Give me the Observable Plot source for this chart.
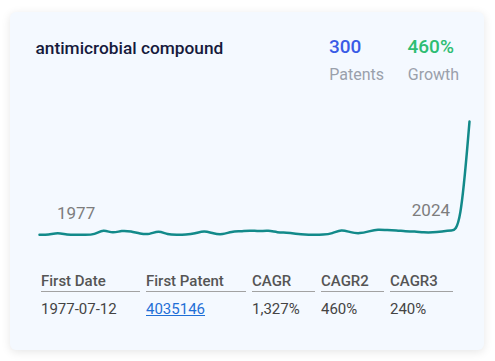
<!DOCTYPE html>
<html>
<head>
<meta charset="utf-8">
<script src="https://cdn.jsdelivr.net/npm/d3@7"></script>
<script src="https://cdn.jsdelivr.net/npm/@observablehq/plot@0.6"></script>
<style>
  html, body { margin: 0; padding: 0; background: #ffffff; }
  body { width: 495px; height: 361px; position: relative; overflow: hidden; font-family: Roboto, "Noto Sans", sans-serif; }
  .card { position: absolute; left: 10px; top: 12px; width: 474px; height: 338px; background: #f4f9ff; border-radius: 6px; box-shadow: 0 2px 10px rgba(0,0,0,0.10); }
  .abs { position: absolute; white-space: nowrap; line-height: 1; }
  .title { font-size: 17.3px; font-weight: 500; color: #161a3c; }
  .big { font-size: 19px; font-weight: 500; }
  .lbl { font-size: 16px; font-weight: 400; color: #9aa0ab; }
  .th { font-size: 15px; font-weight: 500; color: #555; }
  .td { font-size: 15px; font-weight: 400; color: #444; }
  .rule { position: absolute; height: 1px; background: #a2a2a2; }
  a { color: #1f6fd6; text-decoration: underline; }
  #chart { position: absolute; left: 10px; top: 95px; }
</style>
</head>
<body>
<div class="card"></div>
<div id="header"></div>
<div id="chart"></div>
<div id="table"></div>
<script>
// ---- data ----
const title = "antimicrobial compound";
const statValues = ["300", "460%"];
const statLabels = ["Patents", "Growth"];
const statColors = ["#3a5be6", "#2ebd72"];
const years = [1977,1978,1979,1980,1981,1982,1983,1984,1985,1986,1987,1988,1989,1990,1991,1992,
  1993,1994,1995,1996,1997,1998,1999,2000,2001,2002,2003,2004,2005,2006,2007,2008,
  2009,2010,2011,2012,2013,2014,2015,2016,2017,2018,2019,2020,2021,2022,2023,2024];
const counts = [1,1,3,1,1,1,1,6,2,5,4,2,1,5,1,1,
  1,2,5,2,1,4,4,5,4,5,3,3,2,1,1,1,
  2,6,3,2,4,6,5,5,4,4,3,3,4,5,5,101];
const tableHeaders = ["First Date", "First Patent", "CAGR", "CAGR2", "CAGR3"];
const tableValues = ["1977-07-12", "4035146", "1,327%", "460%", "240%"];

// ---- header ----
const header = document.getElementById("header");
function addText(parent, cls, text, left, top, color) {
  const d = document.createElement("div");
  d.className = "abs " + cls;
  d.textContent = text;
  d.style.left = left + "px";
  d.style.top = top + "px";
  if (color) d.style.color = color;
  parent.appendChild(d);
  return d;
}
addText(header, "title", title, 35.5, 40.1);
const statLeft = [329, 407.5];
statValues.forEach((v, i) => addText(header, "big", v, statLeft[i], 37.3, statColors[i]));
statLabels.forEach((v, i) => addText(header, "lbl", v, statLeft[i] + 0.3, 66.5));

// ---- chart ----
const data = years.map((y, i) => ({year: y, count: counts[i]}));
const minC = d3.min(counts), maxC = d3.max(counts);
const first = data[0], last = data[data.length - 1];
const plot = Plot.plot({
  width: 474,
  height: 155,
  marginLeft: 29,
  marginRight: 15,
  marginTop: 26,
  marginBottom: 15.7,
  style: {background: "transparent", overflow: "visible"},
  x: {domain: [years[0], years[years.length - 1]], axis: null},
  y: {domain: [minC, maxC], axis: null},
  marks: [
    Plot.line(data, {x: "year", y: "count", curve: "basis", stroke: "#128a8a", strokeWidth: 2.5}),
    Plot.text([first], {x: "year", y: () => minC, text: d => String(d.year), textAnchor: "start", lineAnchor: "bottom", dx: 17.5, dy: -16, fontSize: 17, fill: "#7d7d7d", fontFamily: "Roboto"}),
    Plot.text([last], {x: "year", y: () => minC, text: d => String(d.year), textAnchor: "end", lineAnchor: "bottom", dx: -19.5, dy: -19.3, fontSize: 17, fill: "#7d7d7d", fontFamily: "Roboto"})
  ]
});
document.getElementById("chart").appendChild(plot);

// ---- table ----
const table = document.getElementById("table");
const colLeft = [41, 146, 252, 321, 390];
const colWidth = [98.5, 100, 63, 63, 63];
tableHeaders.forEach((h, i) => {
  addText(table, "th", h, colLeft[i], 274.1);
  const r = document.createElement("div");
  r.className = "rule";
  r.style.left = colLeft[i] + "px";
  r.style.top = "291px";
  r.style.width = colWidth[i] + "px";
  table.appendChild(r);
});
tableValues.forEach((v, i) => {
  const d = addText(table, "td", "", colLeft[i], 301.7);
  if (i === 1) {
    const a = document.createElement("a");
    a.href = "#";
    a.textContent = v;
    d.appendChild(a);
  } else {
    d.textContent = v;
  }
});
</script>
</body>
</html>
